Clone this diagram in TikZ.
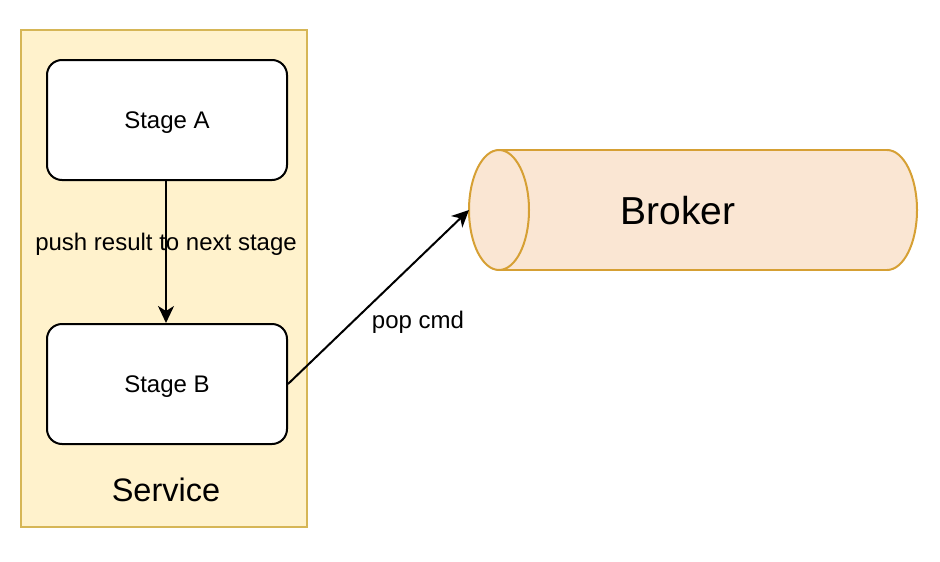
\documentclass[tikz,border=0pt]{standalone}
\usepackage{fontspec}
\setmainfont{Liberation Sans}
\usetikzlibrary{arrows.meta}
\definecolor{svcfill}{HTML}{FFF2CC}
\definecolor{svcline}{HTML}{D6B656}
\definecolor{brkfill}{RGB}{250,230,211}
\definecolor{brkline}{RGB}{214,160,52}
\begin{document}
\begin{tikzpicture}[x=1pt,y=-1pt,
  stagebox/.style={draw=black, line width=2pt, rounded corners=15pt, fill=white,
    minimum width=240pt, minimum height=120pt, inner sep=0pt, text depth=0pt,
    font=\fontsize{24}{28}\selectfont},
  svcbox/.style={draw=svcline, fill=svcfill, line width=2pt,
    minimum width=286pt, minimum height=497pt, inner sep=0pt},
  lbl/.style={font=\fontsize{24}{28}\selectfont, inner sep=0pt, text depth=0pt},
  conn/.style={draw=black, line width=2pt, -{Stealth[length=17pt,width=16pt,inset=5pt]}},
  cylline/.style={draw=brkline, line width=2pt}]
\useasboundingbox (0,0) rectangle (940,562);
% service container
\node[svcbox] (service) at (164,278.5) {};
\node[font=\fontsize{32.5}{38}\selectfont, inner sep=0pt, text depth=0pt] (svclabel) at (166,490) {Service};
% stages
\node[stagebox] (stageA) at (167,120) {Stage A};
\node[stagebox] (stageB) at (167,384) {Stage B};
\draw[conn] ([xshift=-1pt]stageA.south) -- ([xshift=-1pt]stageB.north);
\node[lbl] (pushlbl) at (166,242) {push result to next stage};
% broker cylinder
\fill[brkfill] (499,150) rectangle (887,270);
\fill[brkfill] (887,210) ellipse [x radius=30, y radius=60];
\begin{scope}
  \clip (887,130) rectangle (935,290);
  \draw[cylline] (887,210) ellipse [x radius=30, y radius=60];
\end{scope}
\draw[cylline] (499,150) -- (887,150);
\draw[cylline] (499,270) -- (887,270);
\draw[cylline, fill=brkfill] (499,210) ellipse [x radius=30, y radius=60];
\node[font=\fontsize{39}{46}\selectfont, inner sep=0pt, text depth=0pt] (broker) at (678,210) {Broker};
\coordinate (brokerIn) at (469,210);
% pop arrow
\draw[conn] (stageB.east) -- (brokerIn);
\node[lbl] (poplbl) at (418,320) {pop cmd};
\end{tikzpicture}
\end{document}
